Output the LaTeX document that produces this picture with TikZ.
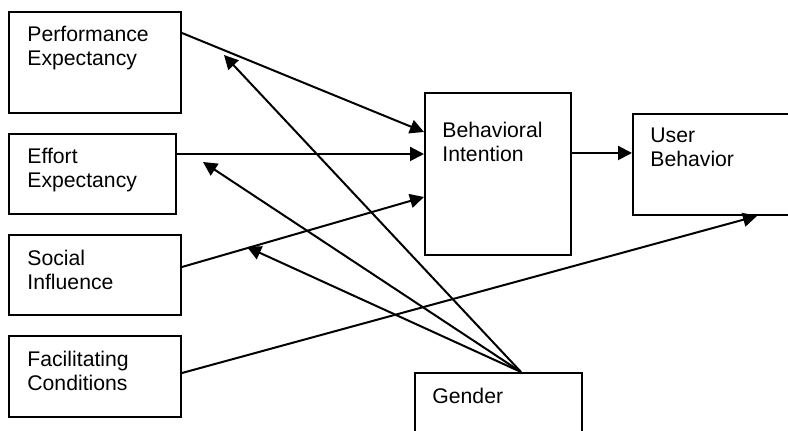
\documentclass[tikz,border=0pt]{standalone}
\usepackage{fontspec}
\setmainfont{Liberation Sans}
\usetikzlibrary{positioning,arrows.meta}
\begin{document}
\begin{tikzpicture}
  [x = 0.5pt, y = -0.5pt, >= {Triangle[length = 7pt, width = 7pt]},
   box/.style = {draw, line width = 1pt, inner sep = 0pt},
   txt/.style = {align = left, inner sep = 0pt, font = \fontsize{10.6}{12}\selectfont},
   link/.style = {->, line width = 1pt}]
  \clip (0,0) rectangle (788,431);
  \node[box, minimum width = 86pt, minimum height = 50.5pt] (pe) at (95,62.5) {};
  \node[box, minimum width = 83.5pt, minimum height = 40pt] (ee) at (92.5,174) {};
  \node[box, minimum width = 86pt, minimum height = 40pt] (si) at (95,275) {};
  \node[box, minimum width = 86pt, minimum height = 40.5pt] (fc) at (95,376.5) {};
  \node[box, minimum width = 73pt, minimum height = 81pt] (bi) at (498,174) {};
  \node[box, minimum width = 83.5pt, minimum height = 50.5pt] (ub) at (716.5,164.5) {};
  \node[box, minimum width = 83.5pt, minimum height = 48pt] (gender) at (498.5,421) {};
  \node[txt, below right = 7.5pt and 9.5pt of pe.north west] {Performance\\Expectancy};
  \node[txt, below right = 7.5pt and 9.5pt of ee.north west] {Effort\\Expectancy};
  \node[txt, below right = 8pt and 9.5pt of si.north west] {Social\\Influence};
  \node[txt, below right = 8pt and 9.5pt of fc.north west] {Facilitating\\Conditions};
  \node[txt, below right = 15pt and 9pt of bi.north west] {Behavioral\\Intention};
  \node[txt, below right = 7.5pt and 9pt of ub.north west] {User\\Behavior};
  \node[txt, below right = 8pt and 9pt of gender.north west] {Gender};
  \coordinate (pe-in) at (224,55);
  \coordinate (ee-in) at (203,162);
  \coordinate (si-in) at (247,247);
  \draw[link] ([yshift = 14.75pt]pe.east) -- ([yshift = 21pt]bi.west);
  \draw[link] ([yshift = 10pt]ee.east) -- ([yshift = 10pt]bi.west);
  \draw[link] ([yshift = 4pt]si.east) -- ([yshift = -11.5pt]bi.west);
  \draw[link] ([yshift = 10.5pt]bi.east) -- ([yshift = 10.5pt]bi.east -| ub.west);
  \draw[link] ([yshift = 1.75pt]fc.east) -- ([xshift = 20.25pt]ub.south);
  \draw[link] ([xshift = 11.25pt]gender.north) -- (pe-in);
  \draw[link] ([xshift = 11.25pt]gender.north) -- (ee-in);
  \draw[link] ([xshift = 11.25pt]gender.north) -- (si-in);
\end{tikzpicture}
\end{document}
